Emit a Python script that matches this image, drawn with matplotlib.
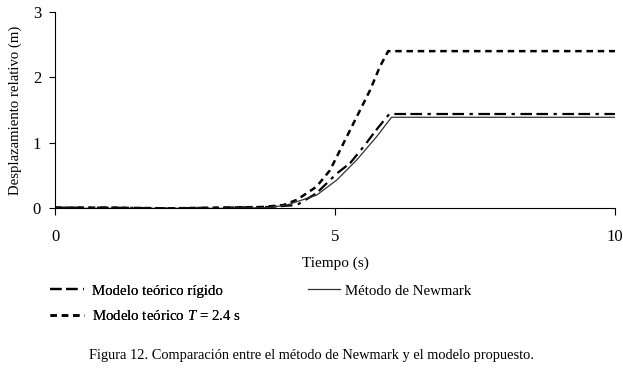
import matplotlib
matplotlib.use("Agg")
import matplotlib.pyplot as plt

plt.rcParams['font.family'] = ['Liberation Serif', 'DejaVu Serif']
plt.rcParams['mathtext.fontset'] = 'custom'
plt.rcParams['mathtext.it'] = 'Liberation Serif:italic'
plt.rcParams['mathtext.rm'] = 'Liberation Serif'

# Data (time in s, displacement in m)
t_rigido = [0, 1, 2, 3, 3.8, 4.32, 4.67, 5.03, 5.27, 5.51, 5.74, 5.97, 10]
d_rigido = [0.01, 0.01, 0.0, 0.01, 0.02, 0.05, 0.23, 0.53, 0.69, 0.94, 1.20, 1.44, 1.44]

t_T24 = [0, 1, 2, 3, 3.7, 4.08, 4.32, 4.67, 4.91, 5.15, 5.39, 5.63, 5.80, 5.95, 10]
d_T24 = [0.01, 0.01, 0.0, 0.01, 0.02, 0.05, 0.13, 0.33, 0.58, 0.99, 1.40, 1.81, 2.16, 2.40, 2.40]

t_newmark = [0, 1, 2, 3, 3.8, 4.14, 4.67, 5.03, 5.39, 5.74, 6.01, 10]
d_newmark = [0.0, 0.0, 0.0, 0.0, 0.01, 0.05, 0.20, 0.43, 0.74, 1.09, 1.39, 1.39]

x_ticks = [0, 5, 10]
y_ticks = [0, 1, 2, 3]

fig = plt.figure(figsize=(6.23, 3.70), dpi=100)
ax = fig.add_axes([0.0883, 0.437, 0.8988, 0.531])

l_rig, = ax.plot(t_rigido, d_rigido, color='black', lw=1.6, dashes=[5.2, 2.0, 5.2, 2.5, 1.5, 2.5])
l_t24, = ax.plot(t_T24, d_T24, color='black', lw=1.8, dashes=[2.6, 1.9])
l_new, = ax.plot(t_newmark, d_newmark, color='#333333', lw=0.9)

ax.set_xlim(0, 10)
ax.set_ylim(0, 3)
ax.set_xticks(x_ticks)
ax.set_yticks(y_ticks)
ax.spines['top'].set_visible(False)
ax.spines['right'].set_visible(False)
ax.tick_params(axis='x', direction='out', length=5, pad=10, labelsize=12)
ax.tick_params(axis='y', direction='out', length=4, pad=6, labelsize=12)
ax.set_xlabel('Tiempo (s)', fontsize=11, labelpad=8)
ax.set_ylabel('Desplazamiento relativo (m)', fontsize=10.6, labelpad=8)

# legend split in two blocks, as in the original figure
leg1 = fig.legend([l_rig, l_t24],
                  ['Modelo teórico rígido', 'Modelo teórico $T$ = 2.4 s'],
                  loc='upper left', bbox_to_anchor=(0.080, 0.232),
                  frameon=False, fontsize=10.7, handlelength=2.3, handletextpad=0.55,
                  labelspacing=0.75, borderaxespad=0, borderpad=0)
fig.add_artist(leg1)
fig.legend([l_new], ['Método de Newmark'],
           loc='upper left', bbox_to_anchor=(0.494, 0.232),
           frameon=False, fontsize=10.7, handlelength=2.2, handletextpad=0.3,
           borderaxespad=0, borderpad=0)

fig.text(0.5, 0.04, 'Figura 12. Comparación entre el método de Newmark y el modelo propuesto.',
         ha='center', va='center', fontsize=10.4)

fig.savefig('out.png', dpi=100)
